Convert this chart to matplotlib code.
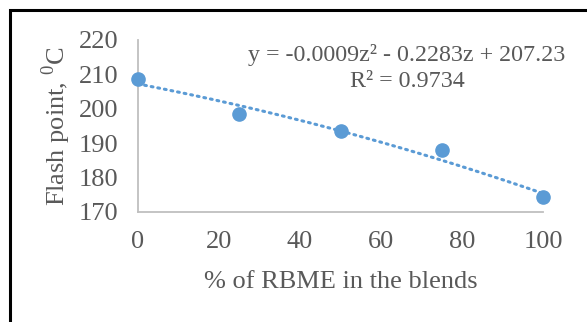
import numpy as np
import matplotlib
matplotlib.use("Agg")
import matplotlib.pyplot as plt
from matplotlib.patches import Rectangle

# flash point of RBME blends
rbme_pct = [0, 25, 50, 75, 100]
flash_point = [208.6, 198.4, 193.5, 188.0, 174.3]

# quadratic trendline as reported
coef = [-0.0009, -0.2283, 207.23]
r_squared = 0.9734

plt.rcParams['font.family'] = ['Liberation Serif', 'DejaVu Serif']
plt.rcParams['mathtext.fontset'] = 'custom'
plt.rcParams['mathtext.rm'] = 'Liberation Serif'

txt = '#595959'
blue = '#5b9bd5'
fs = 19

fig = plt.figure(figsize=(5.87, 3.22), dpi=100)
ax = fig.add_axes([138 / 587, 1 - 212 / 322, 405 / 587, 172 / 322])

zz = np.linspace(0, 100, 200)
ax.plot(zz, np.polyval(coef, zz), color=blue, lw=2.2, ls=(0, (0.6, 1.6)),
        dash_capstyle='round', zorder=2)
ax.plot(rbme_pct, flash_point, 'o', color=blue, ms=9.5, zorder=3, clip_on=False)

ax.set_xlim(0, 100)
ax.set_ylim(170, 220)
ax.set_xticks(range(0, 101, 20))
ax.set_yticks(range(170, 221, 10))
ax.tick_params(length=0, labelsize=fs, colors=txt)
ax.tick_params(axis='y', pad=14)
ax.tick_params(axis='x', pad=14)
for s in ['top', 'right']:
    ax.spines[s].set_visible(False)
for s in ['left', 'bottom']:
    ax.spines[s].set_color('#bfbfbf')
    ax.spines[s].set_linewidth(1.3)

ax.set_xlabel('% of RBME in the blends', fontsize=fs, color=txt, labelpad=13)
ax.set_ylabel('Flash point, $^{0}$C', fontsize=fs, color=txt, labelpad=4)

fig.text(407 / 587, 1 - 68 / 322,
         f'y = {coef[0]}z\u00b2 - {abs(coef[1])}z + {coef[2]}\nR\u00b2 = {r_squared}',
         ha='center', va='center', fontsize=17.3, color=txt, linespacing=1.3)

fig.patches.append(Rectangle((10 / 587, -0.2), 1.2, 1.2 - 10 / 322,
                             transform=fig.transFigure, fill=False,
                             ec='black', lw=2.2))

fig.savefig('out.png', dpi=100)
